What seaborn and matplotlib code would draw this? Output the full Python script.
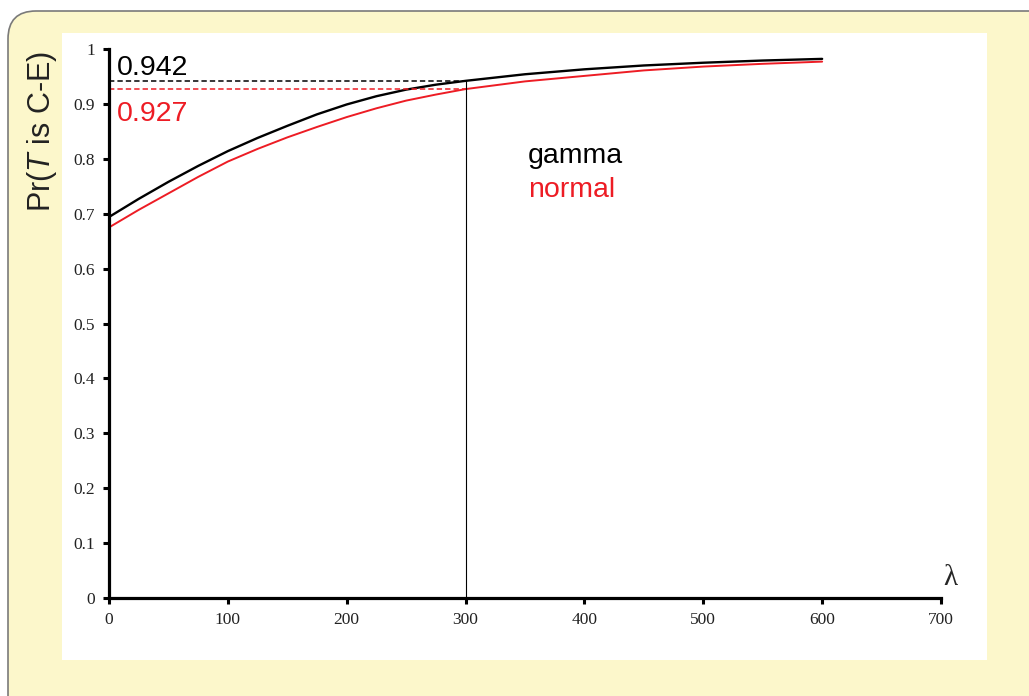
import matplotlib
matplotlib.use("Agg")
import matplotlib.pyplot as plt
from matplotlib.patches import FancyBboxPatch, Rectangle
import seaborn as sns
import pandas as pd

# ---- data ----
lam = [0, 25, 50, 75, 100, 125, 150, 175, 200, 225, 250, 275, 300,
       350, 400, 450, 500, 550, 600]
gamma = [0.694, 0.727, 0.758, 0.787, 0.814, 0.838, 0.860, 0.881, 0.899,
         0.914, 0.926, 0.935, 0.942, 0.954, 0.963, 0.970, 0.975, 0.979, 0.982]
normal = [0.675, 0.707, 0.737, 0.767, 0.795, 0.818, 0.839, 0.858, 0.876,
          0.892, 0.906, 0.917, 0.927, 0.941, 0.951, 0.961, 0.968, 0.973, 0.977]
lam_mark = 300
gamma_mark = 0.942
normal_mark = 0.927
xticks = [0, 100, 200, 300, 400, 500, 600, 700]
yticks = [0, 0.1, 0.2, 0.3, 0.4, 0.5, 0.6, 0.7, 0.8, 0.9, 1]
ytick_labels = ["0", "0.1", "0.2", "0.3", "0.4", "0.5", "0.6", "0.7", "0.8", "0.9", "1"]
series_names = ["gamma", "normal"]

RED = "#ED1C24"
YELLOW = "#FCF7CB"

sns.set_theme(style="white")
plt.rcParams["font.family"] = ["Liberation Sans", "DejaVu Sans"]
plt.rcParams["mathtext.fontset"] = "custom"
plt.rcParams["mathtext.rm"] = "Liberation Sans"
plt.rcParams["mathtext.it"] = "Liberation Sans:italic"

fig = plt.figure(figsize=(10.29, 6.96), dpi=100)
fig.patch.set_facecolor("white")

# rounded yellow panel (inches coords)
panel = FancyBboxPatch((0.08, -1.0), 13.0, 6.96 - 0.11 + 1.0,
                       boxstyle="round,pad=0,rounding_size=0.28",
                       transform=fig.dpi_scale_trans, facecolor=YELLOW,
                       edgecolor="#7a7a7a", linewidth=1.2, zorder=0)
fig.patches.append(panel)
white = Rectangle((62 / 1029, 1 - 660 / 696), 925 / 1029, 627 / 696,
                  transform=fig.transFigure, facecolor="white",
                  edgecolor="none", zorder=1)
fig.patches.append(white)

ax = fig.add_axes([109 / 1029, 1 - 598 / 696, 832 / 1029, 549 / 696])
ax.set_facecolor("none")
ax.set_zorder(2)

df = pd.DataFrame({
    "lam": lam * 2,
    "p": gamma + normal,
    "dist": [series_names[0]] * len(lam) + [series_names[1]] * len(lam),
})
sns.lineplot(data=df, x="lam", y="p", hue="dist",
             palette={"gamma": "black", "normal": RED},
             legend=False, ax=ax, linewidth=1.6)
for ln, w in zip(ax.lines, [1.7, 1.4]):
    ln.set_linewidth(w)
    ln.set_solid_joinstyle("round")

# reference lines
ax.plot([0, lam_mark], [gamma_mark, gamma_mark], color="black",
        linestyle=(0, (3.5, 2)), linewidth=1.1)
ax.plot([0, lam_mark], [normal_mark, normal_mark], color=RED,
        linestyle=(0, (3.5, 2)), linewidth=1.1)
ax.plot([lam_mark, lam_mark], [0, gamma_mark], color="black", linewidth=0.8)

# annotations
ax.text(6.7, 0.952, f"{gamma_mark:.3f}", color="black", fontsize=20.5,
        ha="left", va="baseline")
ax.text(6.7, 0.869, f"{normal_mark:.3f}", color=RED, fontsize=20.5,
        ha="left", va="baseline")
ax.text(352.5, 0.792, series_names[0], color="black", fontsize=20.5,
        ha="left", va="baseline")
ax.text(352.5, 0.730, series_names[1], color=RED, fontsize=20.5,
        ha="left", va="baseline")
ax.text(701.5, 0.024, "λ", fontsize=21, family="Liberation Serif",
        ha="left", va="baseline", clip_on=False)

ax.set_xlim(0, 700)
ax.set_ylim(0, 1)
ax.set_xticks(xticks)
ax.set_xticklabels([str(t) for t in xticks])
ax.set_yticks(yticks)
ax.set_yticklabels(ytick_labels)
for lbl in ax.get_xticklabels() + ax.get_yticklabels():
    lbl.set_family("Liberation Serif")
    lbl.set_fontsize(12.5)
    lbl.set_color("#222222")

ax.set_xlabel("")
ax.set_ylabel(r"Pr($\mathit{T}$ is C-E)", fontsize=22, va="center",
              color="#222222")
ax.yaxis.set_label_coords(-0.0805, 0.85)

for side in ["top", "right"]:
    ax.spines[side].set_visible(False)
for side in ["left", "bottom"]:
    ax.spines[side].set_linewidth(2.3)
    ax.spines[side].set_color("black")
ax.tick_params(axis="both", which="major", direction="out", length=4,
               width=2.2, color="black", bottom=True, left=True)
ax.tick_params(axis="x", pad=6)
ax.tick_params(axis="y", pad=6)

fig.savefig("out.png", dpi=100)
